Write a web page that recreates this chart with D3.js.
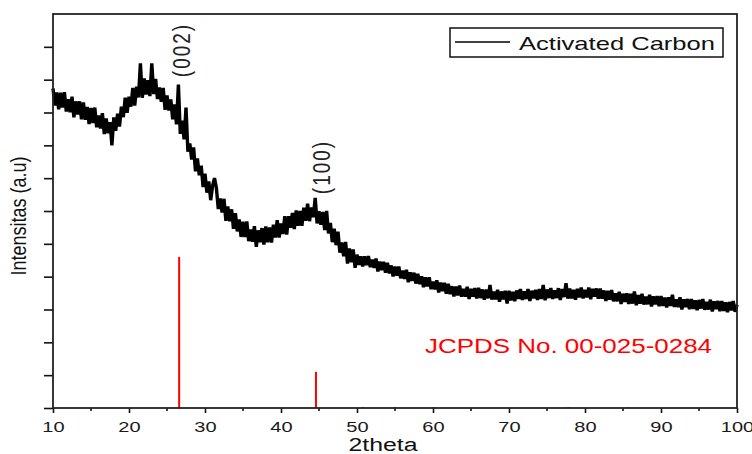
<!DOCTYPE html>
<html>
<head>
<meta charset="utf-8">
<script src="https://cdn.jsdelivr.net/npm/d3@7"></script>
<style>
  body { margin: 0; background: #fff; }
  text { font-family: "Liberation Sans", Arial, sans-serif; }
</style>
</head>
<body>
<svg id="chart"></svg>
<script>
var w = 752; // Width of the SVG element
var h = 454; // Height of the SVG element
margin = { top: 14, right: 15, bottom: 46, left: 53 };

// scan start / step (degrees 2theta)
var scanStart = 10;
var scanStep = 0.25;

// Activated Carbon intensity, one row per degree (4 points each), arbitrary units
var intensity = [
  973, 921, 961, 910,   960, 915, 962, 903,   940, 901, 948, 885,   934, 894, 934, 879,
  931, 878, 917, 865,   914, 868, 915, 855,   891, 851, 898, 834,   882, 837, 871, 800,
  885, 844, 896, 857,   918, 886, 945, 899,   948, 918, 975, 921,   979, 946, 1050, 945,
  1004, 955, 998, 950,  1050, 956, 1002, 941, 976, 933, 975, 908,   952, 906, 940, 879,
  925, 864, 985, 835,   875, 818, 915, 781,   806, 757, 794, 721,   760, 709, 738, 673,
  714, 656, 690, 633,   677, 700, 670, 606,   638, 595, 637, 570,   614, 569, 605, 546,
  593, 538, 574, 521,   567, 521, 568, 508,   544, 506, 554, 491,   541, 505, 548, 498,
  553, 505, 550, 504,   558, 519, 572, 519,   562, 530, 584, 528,   584, 549, 594, 545,
  602, 555, 600, 555,   610, 570, 622, 569,   611, 581, 640, 562,   599, 558, 597, 542,
  600, 532, 564, 505,   546, 496, 537, 473,   504, 462, 506, 440,   486, 444, 483, 427,
  467, 436, 462, 431,   462, 435, 463, 429,   452, 427, 455, 416,   446, 420, 445, 412,
  442, 410, 434, 401,   431, 403, 431, 395,   418, 393, 421, 383,   413, 387, 412, 379,
  409, 377, 401, 368,   398, 370, 398, 362,   385, 361, 389, 352,   382, 356, 381, 348,
  378, 347, 371, 340,   370, 343, 373, 339,   363, 339, 369, 332,   363, 339, 365, 334,
  366, 335, 361, 330,   361, 334, 375, 330,   354, 331, 360, 324,   355, 331, 357, 318,
  357, 328, 354, 325,   358, 332, 362, 329,   355, 332, 362, 326,   357, 334, 360, 329,
  362, 332, 375, 328,   361, 335, 365, 332,   358, 335, 365, 329,   362, 338, 380, 333,
  364, 334, 360, 330,   363, 337, 367, 334,   360, 337, 367, 331,   363, 339, 364, 333,
  364, 333, 358, 326,   357, 330, 359, 325,   349, 325, 354, 317,   348, 323, 349, 317,
  348, 318, 355, 313,   344, 318, 348, 315,   339, 316, 345, 309,   340, 316, 341, 310,
  341, 311, 336, 306,   337, 311, 345, 308,   331, 307, 337, 300,   331, 307, 332, 301,
  332, 302, 328, 298,   329, 303, 332, 299,   323, 300, 330, 294,   325, 301, 326, 295,
  326, 296, 322, 292,   323, 297, 326, 293,
  315
];

// JCPDS No. 00-025-0284 reference peaks
var refAngle = [26.6, 44.6, 50.8, 55.0, 60.1, 77.8, 85.7];
var refIntensity = [460, 110, 3, 3, 3, 3, 3];

// peak labels
var peakLabels = ["(002)", "(100)"];
var peakLabelPos = [[190, 50], [330, 167]];

var xTicks = [10, 20, 30, 40, 50, 60, 70, 80, 90, 100];
var xMinor = [15, 25, 35, 45, 55, 65, 75, 85, 95];
var yTicks = [0, 100, 200, 300, 400, 500, 600, 700, 800, 900, 1000, 1100];

var data = intensity.map(function(v, i) {
  return [scanStart + i * scanStep, v];
});

var svg = d3.select("#chart")
  .attr("width", w)
  .attr("height", h);

var xScale = d3.scaleLinear()
  .domain([10, 100])
  .range([margin.left, w - margin.right]);

var yScale = d3.scaleLinear()
  .domain([0, 1200])
  .range([h - margin.bottom, margin.top]);

// reference lines (red)
svg.append("g")
  .selectAll("line")
  .data(refAngle)
  .enter()
  .append("line")
  .attr("x1", (d) => xScale(d))
  .attr("x2", (d) => xScale(d))
  .attr("y1", yScale(0))
  .attr("y2", (d, i) => yScale(refIntensity[i]))
  .attr("stroke", "#ff0000")
  .attr("stroke-width", 2);

// the pattern
var line = d3.line()
  .x((d) => xScale(d[0]))
  .y((d) => yScale(d[1]));

svg.append("path")
  .datum(data)
  .attr("d", line)
  .attr("fill", "none")
  .attr("stroke", "#000")
  .attr("stroke-width", 3.4)
  .attr("stroke-linejoin", "miter")
  .attr("stroke-miterlimit", 2);

// x axis
var xAxis = svg.append("g")
  .attr("transform", `translate(0,${yScale(0)})`)
  .call(d3.axisBottom(xScale).tickValues(xTicks).tickSizeInner(5).tickSizeOuter(0).tickPadding(9));
xAxis.select(".domain").remove();
xAxis.selectAll(".tick line").attr("stroke", "#111").attr("stroke-width", 1.6);
xAxis.selectAll("text")
  .attr("font-size", 14.5)
  .attr("fill", "#1a1a1a")
  .attr("transform", "scale(1.38,1)");

svg.append("g")
  .selectAll("line")
  .data(xMinor)
  .enter()
  .append("line")
  .attr("x1", (d) => xScale(d))
  .attr("x2", (d) => xScale(d))
  .attr("y1", yScale(0))
  .attr("y2", yScale(0) + 3)
  .attr("stroke", "#111")
  .attr("stroke-width", 1.6);

// y axis (no labels)
var yAxis = svg.append("g")
  .attr("transform", `translate(${margin.left},0)`)
  .call(d3.axisLeft(yScale).tickValues(yTicks).tickSize(9).tickFormat(""));
yAxis.select(".domain").remove();
yAxis.selectAll(".tick line").attr("stroke", "#111").attr("stroke-width", 1.6);

// frame
svg.append("rect")
  .attr("x", margin.left)
  .attr("y", margin.top)
  .attr("width", w - margin.right - margin.left)
  .attr("height", h - margin.bottom - margin.top)
  .attr("fill", "none")
  .attr("stroke", "#222")
  .attr("stroke-width", 1.8);

// axis titles
svg.append("text")
  .attr("transform", "translate(383,451) scale(1.38,1)")
  .attr("text-anchor", "middle")
  .attr("font-size", 18)
  .attr("fill", "#111")
  .text("2theta");

svg.append("text")
  .attr("transform", "translate(26,216) scale(1.25,1) rotate(-90)")
  .attr("text-anchor", "middle")
  .attr("font-size", 18)
  .attr("fill", "#111")
  .text("Intensitas (a.u)");

// peak labels
svg.selectAll(".peak-label")
  .data(peakLabels)
  .enter()
  .append("text")
  .attr("class", "peak-label")
  .attr("transform", (d, i) => "translate(" + peakLabelPos[i][0] + "," + peakLabelPos[i][1] + ") scale(1.3,1) rotate(-90)")
  .attr("text-anchor", "middle")
  .attr("font-size", 19)
  .attr("letter-spacing", 2)
  .attr("fill", "#222")
  .text((d) => d);

// reference caption
svg.append("text")
  .attr("x", 425)
  .attr("y", 353)
  .attr("font-size", 20)
  .attr("fill", "#ff0000")
  .attr("textLength", 287)
  .attr("lengthAdjust", "spacingAndGlyphs")
  .text("JCPDS No. 00-025-0284");

// legend
var legend = svg.append("g");
legend.append("rect")
  .attr("x", 450)
  .attr("y", 28)
  .attr("width", 273)
  .attr("height", 29)
  .attr("fill", "#fff")
  .attr("stroke", "#111")
  .attr("stroke-width", 1.5);
legend.append("line")
  .attr("x1", 455)
  .attr("x2", 510)
  .attr("y1", 42)
  .attr("y2", 42)
  .attr("stroke", "#000")
  .attr("stroke-width", 1.5);
legend.append("text")
  .attr("x", 519)
  .attr("y", 50)
  .attr("font-size", 19)
  .attr("fill", "#111")
  .attr("textLength", 196)
  .attr("lengthAdjust", "spacingAndGlyphs")
  .text("Activated Carbon");
</script>
</body>
</html>
